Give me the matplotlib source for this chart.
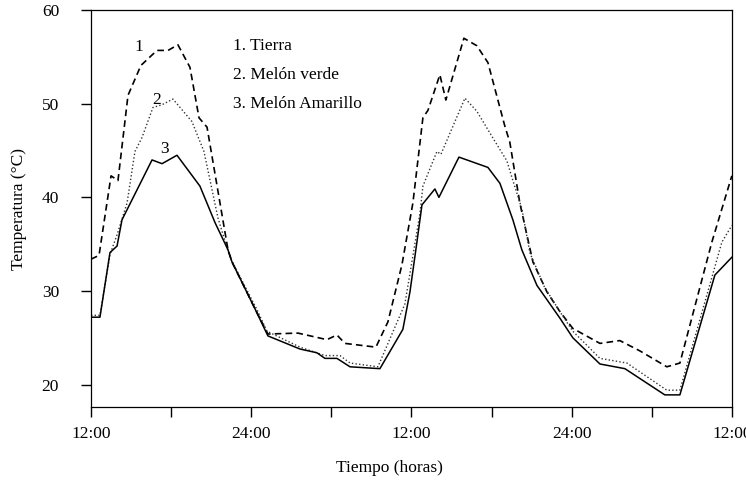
import numpy as np
import matplotlib
matplotlib.use('Agg')
import matplotlib.pyplot as plt
from matplotlib.ticker import MultipleLocator

plt.rcParams['font.family'] = ['Liberation Serif', 'DejaVu Serif']

#Datos (horas desde las 12:00, temperatura en C)
#1. Tierra
horas_tierra = [0, 0.6, 1.5, 2.02, 2.77, 3.74, 4.94, 5.77, 6.51, 7.41, 8.09, 8.69,
                10.26, 10.56, 12.28, 13.25, 15.5, 17.67, 18.42, 19.02, 21.34, 22.24,
                23.29, 24.11, 24.86, 25.24, 26.13, 26.58, 27.93, 28.9, 29.73, 31.0,
                31.37, 32.12, 33.1, 34.15, 35.12, 36.09, 38.12, 39.61, 41.11, 43.13,
                44.11, 46.5, 48]
temp_tierra = [33.4, 33.8, 42.3, 41.8, 50.9, 54.1, 55.7, 55.7, 56.3, 53.9, 48.5, 47.5,
               34.4, 33.1, 28.1, 25.4, 25.5, 24.8, 25.3, 24.4, 24.0, 26.7,
               32.8, 39.4, 48.5, 49.3, 53.1, 50.4, 57.0, 56.2, 54.4, 47.6,
               45.9, 39.4, 33.1, 29.9, 27.8, 26.0, 24.4, 24.7, 23.6, 21.9,
               22.3, 35.2, 42.3]

#2. Melon verde
horas_verde = [0, 0.67, 1.42, 1.95, 2.7, 3.29, 3.82, 4.64, 5.32, 6.14, 7.56, 8.46,
               9.51, 10.41, 12.43, 13.18, 15.65, 17.52, 18.65, 19.4, 21.49, 23.51,
               24.64, 24.86, 25.91, 26.21, 28.01, 28.9, 30.25, 31.15, 31.6, 32.27,
               32.87, 33.97, 35.12, 36.09, 38.12, 40.14, 43.13, 44.11, 47.25, 48]
temp_verde = [27.4, 27.4, 33.9, 36.0, 39.4, 44.9, 46.4, 49.6, 49.9, 50.5, 48.1, 44.9,
              37.8, 33.6, 28.0, 25.7, 24.0, 23.1, 23.1, 22.3, 21.9, 28.6,
              38.3, 41.2, 44.9, 44.6, 50.6, 49.2, 46.0, 43.9, 41.8, 38.8,
              34.1, 30.4, 27.8, 25.7, 22.8, 22.3, 19.4, 19.4, 35.2, 37.0]

#3. Melon amarillo
horas_amarillo = [0, 0.67, 1.42, 1.95, 2.32, 4.57, 5.32, 6.44, 8.16, 9.29, 10.26, 10.56,
                  12.28, 13.25, 15.65, 16.92, 17.52, 18.42, 19.4, 21.64, 23.36, 23.89,
                  24.41, 24.79, 25.76, 26.06, 27.56, 29.73, 30.63, 31.6, 32.27, 33.4,
                  35.12, 36.09, 38.12, 39.99, 42.98, 44.11, 46.73, 48]
temp_amarillo = [27.2, 27.2, 34.1, 34.8, 37.6, 44.0, 43.6, 44.5, 41.2, 37.3, 34.4, 33.1,
                 28.1, 25.2, 23.8, 23.4, 22.8, 22.8, 21.9, 21.7, 25.9, 29.9,
                 35.2, 39.2, 40.9, 40.0, 44.3, 43.2, 41.5, 37.6, 34.4, 30.6,
                 27.1, 25.0, 22.2, 21.7, 18.9, 18.9, 31.7, 33.6]

ticks_x = [0, 12, 24, 36, 48]
etiquetas_x = ['12:00', '24:00', '12:00', '24:00', '12:00']
ticks_y = [20, 30, 40, 50, 60]
leyenda = ['1. Tierra', '2. Melón verde', '3. Melón Amarillo']

fig = plt.figure(figsize=(7.46, 4.84), dpi=100)
ax = fig.add_axes([0.122, 0.159, 0.859, 0.820])

#Curvas
ax.plot(horas_tierra, temp_tierra, color='black', lw=1.2, linestyle=(0, (4, 2.5)))
ax.plot(horas_verde, temp_verde, color='#333333', lw=1.0, linestyle=(0, (1, 1.6)))
ax.plot(horas_amarillo, temp_amarillo, color='black', lw=1.1)

#Numeros sobre las curvas
ax.text(3.6, 56.1, '1', fontsize=12.5, ha='center', va='center')
ax.text(4.9, 50.4, '2', fontsize=12.5, ha='center', va='center')
ax.text(5.5, 45.2, '3', fontsize=12.5, ha='center', va='center')

#Leyenda como texto
for i, t in enumerate(leyenda):
    ax.text(10.6, 56.2 - i * 3.1, t, fontsize=12.5, ha='left', va='center')

ax.set_xlim(0, 48)
ax.set_ylim(17.6, 60)
ax.set_xticks(ticks_x)
ax.set_xticklabels(etiquetas_x)
ax.xaxis.set_minor_locator(MultipleLocator(6))
ax.set_yticks(ticks_y)

ax.tick_params(axis='both', which='both', direction='out', length=7, width=1,
               labelsize=12.5, colors='black')
ax.tick_params(axis='x', which='major', pad=7)
ax.tick_params(axis='y', which='major', pad=16)

for s in ax.spines.values():
    s.set_linewidth(0.9)

ax.set_xlabel('Tiempo (horas)', fontsize=12.5)
ax.set_ylabel('Temperatura (°C)', fontsize=12.5)
ax.xaxis.set_label_coords(0.466, -0.134)
ax.yaxis.set_label_coords(-0.1, 0.5)

fig.savefig('out.png', dpi=100)
